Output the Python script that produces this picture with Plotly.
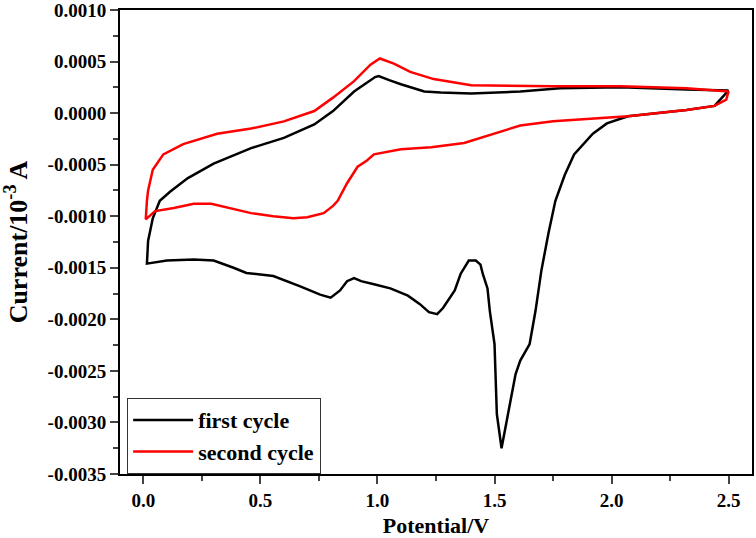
import plotly.graph_objects as go

# primeiro ciclo: varredura catódica 2.5 -> 0.0 V, depois anódica 0.0 -> 2.5 V
pot_ciclo1 = [2.50, 2.44, 2.32, 2.18, 2.07, 1.98, 1.92, 1.84, 1.80, 1.76, 1.73, 1.70,
              1.675, 1.65, 1.61, 1.59, 1.56, 1.53, 1.51, 1.50, 1.48, 1.47, 1.45, 1.44,
              1.42, 1.39, 1.355, 1.33, 1.28, 1.255, 1.22, 1.18, 1.13, 1.055, 0.985,
              0.93, 0.90, 0.87, 0.84, 0.80, 0.755, 0.67, 0.555, 0.44, 0.385, 0.30,
              0.215, 0.10, 0.015, 0.02, 0.04, 0.07, 0.115, 0.19, 0.30, 0.46, 0.60,
              0.73, 0.81, 0.90, 0.99, 1.005, 1.05, 1.10, 1.20, 1.27, 1.40, 1.61, 1.78,
              2.04, 2.32, 2.50]
corr_ciclo1 = [0.00022, 0.00007, 0.00003, 0.0000, -0.00003, -0.00010, -0.00020, -0.00040,
               -0.00060, -0.00085, -0.00117, -0.00153, -0.00192, -0.00224, -0.00240,
               -0.00253, -0.00289, -0.00325, -0.00292, -0.00224, -0.00192, -0.00170,
               -0.00156, -0.00147, -0.00143, -0.00143, -0.00156, -0.00172, -0.00189,
               -0.00195, -0.00193, -0.00185, -0.00177, -0.00170, -0.00166, -0.00163,
               -0.00160, -0.00163, -0.00172, -0.00179, -0.00176, -0.00168, -0.00158,
               -0.00155, -0.00150, -0.00143, -0.00142, -0.00143, -0.00146, -0.00124,
               -0.00102, -0.00085, -0.00076, -0.00063, -0.00049, -0.00034, -0.00024,
               -0.00011, 0.00002, 0.00021, 0.00035, 0.00036, 0.00032, 0.00028, 0.00021,
               0.00020, 0.00019, 0.00021, 0.00024, 0.00025, 0.00023, 0.00022]

# segundo ciclo
pot_ciclo2 = [2.50, 2.49, 2.44, 2.32, 2.07, 1.75, 1.61, 1.47, 1.37, 1.23, 1.10, 0.985,
              0.955, 0.915, 0.87, 0.83, 0.81, 0.77, 0.70, 0.64, 0.555, 0.46, 0.36, 0.29,
              0.215, 0.13, 0.05, 0.01, 0.015, 0.02, 0.04, 0.085, 0.17, 0.315, 0.46,
              0.60, 0.73, 0.81, 0.90, 0.97, 1.01, 1.07, 1.14, 1.24, 1.40, 1.75, 2.04,
              2.32, 2.50]
corr_ciclo2 = [0.00021, 0.00013, 0.00007, 0.00003, -0.00003, -0.00008, -0.00012, -0.00022,
               -0.00029, -0.00033, -0.00035, -0.00040, -0.00046, -0.00052, -0.00068,
               -0.00085, -0.00090, -0.00097, -0.00101, -0.00102, -0.00100, -0.00097,
               -0.00092, -0.00088, -0.00088, -0.00092, -0.00095, -0.00103, -0.00085,
               -0.00075, -0.00055, -0.00040, -0.00030, -0.00020, -0.00015, -0.00008,
               0.00002, 0.00015, 0.00031, 0.00047, 0.00053, 0.00048, 0.00040, 0.00033,
               0.00027, 0.00026, 0.00026, 0.00024, 0.00021]

# marcas dos eixos
ticks_x = [0.0, 0.5, 1.0, 1.5, 2.0, 2.5]
rotulos_x = ["0.0", "0.5", "1.0", "1.5", "2.0", "2.5"]
ticks_y = [0.0010, 0.0005, 0.0, -0.0005, -0.0010, -0.0015, -0.0020, -0.0025, -0.0030, -0.0035]
rotulos_y = ["0.0010", "0.0005", "0.0000", "-0.0005", "-0.0010", "-0.0015",
             "-0.0020", "-0.0025", "-0.0030", "-0.0035"]

fonte = "Liberation Serif"

fig = go.Figure()
fig.add_trace(go.Scatter(x=pot_ciclo1, y=corr_ciclo1, mode="lines",
                         line=dict(color="black", width=2.5), name="<b>first cycle</b>"))
fig.add_trace(go.Scatter(x=pot_ciclo2, y=corr_ciclo2, mode="lines",
                         line=dict(color="#ff0000", width=2.5), name="<b>second cycle</b>"))

fig.update_layout(
    width=756, height=538,
    margin=dict(l=120, r=4, t=10, b=64),
    plot_bgcolor="white", paper_bgcolor="white",
    font=dict(family=fonte, color="black", size=19),
    legend=dict(x=0.011, y=0.164, xanchor="left", yanchor="top",
                bordercolor="#333", borderwidth=1.2, bgcolor="white",
                font=dict(size=22, family=fonte), tracegroupgap=0, itemwidth=60),
    showlegend=True,
)

fig.update_xaxes(
    range=[-0.1, 2.6], tickmode="array", tickvals=ticks_x,
    ticktext=["<b>%s</b>" % t for t in rotulos_x],
    ticks="outside", ticklen=8, tickwidth=2, showgrid=False, zeroline=False,
    showline=True, linewidth=2, linecolor="black", mirror=True, automargin=False,
    ticklabeloverflow="allow",
    minor=dict(ticks="outside", ticklen=5, tickwidth=2, dtick=0.25, tick0=0, showgrid=False),
    tickfont=dict(size=19, family=fonte),
    title=dict(text="<b>Potential/V</b>", font=dict(size=22, family=fonte), standoff=12),
)
fig.update_yaxes(
    range=[-0.0035, 0.0010], tickmode="array", tickvals=ticks_y,
    ticktext=["<b>%s</b>" % t for t in rotulos_y],
    ticks="outside", ticklen=8, tickwidth=2, showgrid=False, zeroline=False,
    showline=True, linewidth=2, linecolor="black", mirror=True, automargin=False,
    ticklabeloverflow="allow",
    minor=dict(ticks="outside", ticklen=5, tickwidth=2, dtick=0.00025, tick0=0, showgrid=False),
    tickfont=dict(size=19, family=fonte),
    title=dict(text="<b>Current/10<sup>-3</sup> A</b>", font=dict(size=26, family=fonte), standoff=18),
)

# tira a margem padrão do body para a figura ocupar a janela toda
fig.write_html("out.html", config={"displayModeBar": False},
               post_script="document.body.style.margin='0';document.body.style.overflow='hidden';")
